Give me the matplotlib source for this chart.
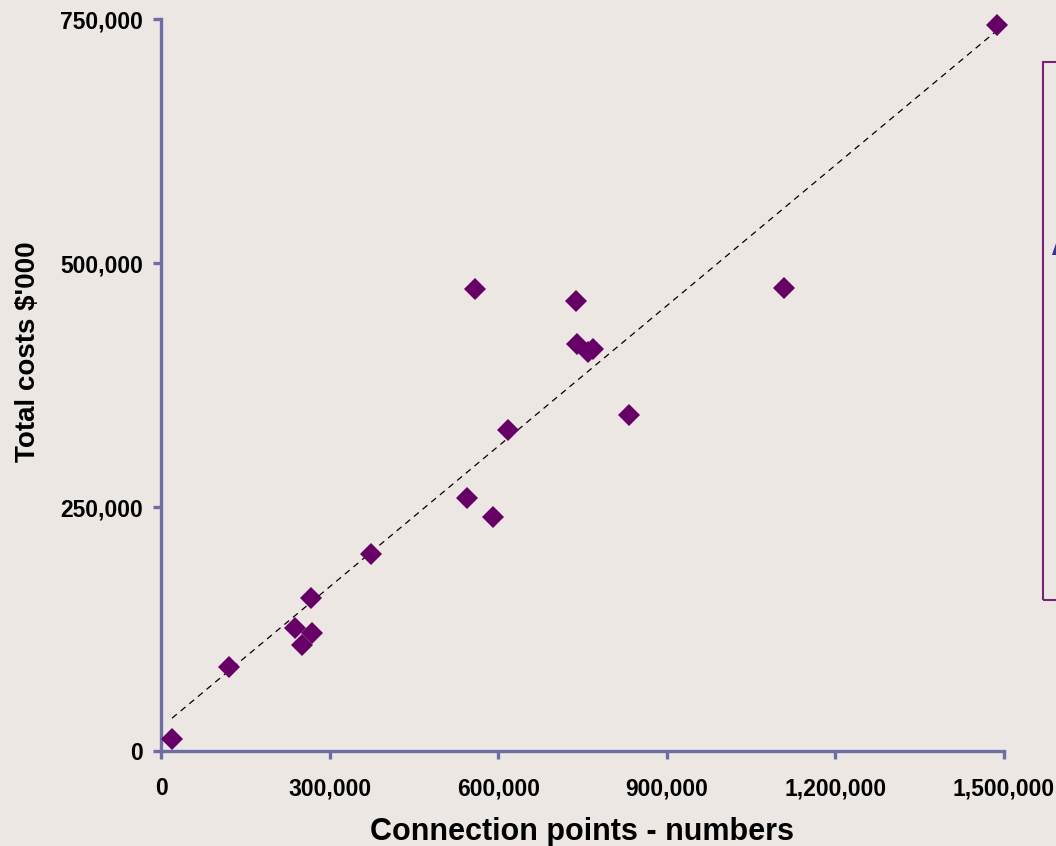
import matplotlib
matplotlib.use("Agg")
import matplotlib.pyplot as plt
from matplotlib.patches import Rectangle
from matplotlib.ticker import FuncFormatter
import numpy as np

# connection points (numbers) and total costs ($'000)
connections = [19600, 121000, 239000, 251000, 267000, 269000, 374000,
               545000, 559000, 591500, 618000, 739000, 740000, 759500,
               769000, 832000, 1108700, 1487600]
costs = [12000, 86000, 126000, 109000, 157000, 121000, 202000,
         259000, 473000, 240000, 329000, 461000, 417000, 409000,
         412000, 344000, 474000, 744000]

x_ticks = [0, 300000, 600000, 900000, 1200000, 1500000]
y_ticks = [0, 250000, 500000, 750000]

bg = "#ECE7E3"
axis_col = "#6E6EA6"
marker_col = "#660066"

plt.rcParams["font.family"] = ["Liberation Sans", "DejaVu Sans"]
plt.rcParams["font.weight"] = "bold"

fig = plt.figure(figsize=(10.56, 8.46), dpi=100, facecolor=bg)
ax = fig.add_axes([161 / 1056, 95 / 846, 843 / 1056, 732 / 846])
ax.set_facecolor(bg)

# linear trend over the data range
x = np.array(connections, dtype=float)
y = np.array(costs, dtype=float)
slope, intercept = np.polyfit(x, y, 1)
xl = np.array([x.min(), x.max()])
ax.plot(xl, slope * xl + intercept, color="black", lw=0.9,
        linestyle=(0, (5, 4)), zorder=2)

ax.plot(connections, costs, linestyle="none", marker="D", ms=11.5,
        color=marker_col, markeredgewidth=0, zorder=3, clip_on=False)

ax.set_xlim(0, 1500000)
ax.set_ylim(0, 750000)
ax.set_xticks(x_ticks)
ax.set_yticks(y_ticks)
fmt = FuncFormatter(lambda v, p: f"{int(v):,}")
ax.xaxis.set_major_formatter(fmt)
ax.yaxis.set_major_formatter(fmt)

for s in ["top", "right"]:
    ax.spines[s].set_visible(False)
for s in ["left", "bottom"]:
    ax.spines[s].set_color(axis_col)
    ax.spines[s].set_linewidth(2.4)

ax.tick_params(axis="both", direction="out", length=6, width=2.4,
               color=axis_col, labelsize=16.5)
ax.tick_params(axis="y", pad=7)
ax.tick_params(axis="x", pad=13)
for lab in ax.get_xticklabels() + ax.get_yticklabels():
    lab.set_fontweight("bold")

ax.set_xlabel("Connection points - numbers", fontsize=22,
              fontweight="bold", labelpad=12)
ax.set_ylabel("Total costs $'000", fontsize=20, fontweight="bold")
ax.yaxis.set_label_coords(-0.142, 0.546)

# partially visible text box at the right edge
fig.patches.append(Rectangle((1043 / 1056, 246 / 846), 40 / 1056, 538 / 846,
                             transform=fig.transFigure, fill=False,
                             edgecolor="#7B1F7B", lw=1.5))
fig.text(1050 / 1056, 591 / 846, "A", fontsize=26, fontweight="bold",
         color="#333399", va="baseline", ha="left")

fig.savefig("out.png", dpi=100, facecolor=bg)
